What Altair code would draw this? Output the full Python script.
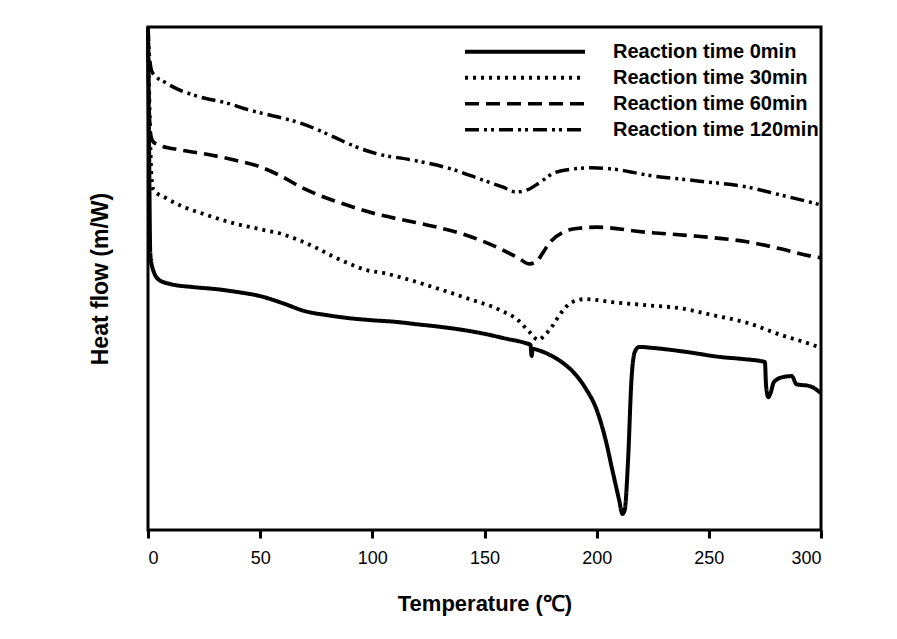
import altair as alt
import pandas as pd

# Reaction time 0 min (solid)
t0 = [0, 0.5, 1, 2, 5, 10, 20, 30, 40, 50, 60, 70, 80, 90, 100, 110, 120, 130, 140, 150,
      160, 168, 170.5, 171, 171.5, 175, 180, 185, 190, 195, 200, 204, 207, 210, 211.5, 212.5,
      214, 215.5, 217, 219, 225, 240, 255, 265, 275, 275.5, 276.5, 277.5, 279, 283, 287, 289,
      295, 300]
v0 = [100, 75.5, 55.1, 52.1, 49.7, 48.9, 48.3, 47.9, 47.3, 46.5, 45.1, 43.5, 42.7, 42.1, 41.7,
      41.4, 40.9, 40.4, 39.8, 39.0, 38.0, 37.2, 36.8, 34.6, 36.0, 35.6, 34.6, 33.2, 31.2, 28.2,
      23.9, 17.9, 11.9, 6.0, 3.2, 4.0, 13.9, 29.8, 35.4, 36.4, 36.2, 35.4, 34.4, 34.0, 33.4,
      28.8, 26.4, 27.2, 29.4, 30.4, 30.6, 29.0, 28.6, 27.2]

# Reaction time 30 min (dotted)
t30 = [0, 0.8, 1.5, 2.5, 8, 15, 25, 38, 50, 60, 68, 75, 82, 90, 97, 105, 112, 127, 142, 157,
       165, 170, 174, 177, 180, 184, 189, 195, 207, 222, 237, 252, 267, 282, 295, 300]
v30 = [100, 81.5, 70.6, 67.6, 66.0, 64.4, 62.8, 61.0, 59.8, 58.8, 57.5, 56.1, 54.5, 52.9, 51.7,
       51.1, 50.3, 48.3, 46.1, 43.7, 41.7, 39.4, 37.8, 38.8, 40.4, 43.1, 45.3, 45.9, 45.3, 44.7,
       44.1, 42.7, 41.2, 38.8, 37.0, 36.2]

# Reaction time 60 min (dashed)
t60 = [0, 0.5, 1.5, 3, 15, 25, 38, 50, 60, 68, 75, 82, 90, 102, 112, 127, 142, 157, 165, 170,
       173, 176, 179, 185, 192, 200, 222, 245, 267, 282, 295, 300]
v60 = [100, 83.5, 77.9, 76.9, 75.5, 74.8, 73.6, 72.2, 70.2, 68.2, 66.8, 65.6, 64.4, 62.8, 61.8,
       60.4, 58.6, 55.9, 54.1, 52.9, 53.3, 55.1, 57.1, 59.2, 60.0, 60.2, 59.2, 58.4, 57.3, 55.9,
       54.5, 54.1]

# Reaction time 120 min (dash-dot-dot)
t120 = [0, 0.8, 2, 8, 23, 35, 45, 58, 68, 76, 83, 92, 102, 117, 135, 149, 158, 164, 169, 175,
        181, 190, 198, 210, 222, 245, 267, 282, 295, 300]
v120 = [100, 93.4, 90.9, 88.9, 86.1, 84.9, 83.5, 82.1, 80.9, 79.5, 78.1, 76.3, 74.8, 73.6, 71.8,
        69.6, 68.2, 67.2, 67.6, 69.2, 71.0, 71.8, 72.0, 71.6, 70.6, 69.4, 68.2, 66.6, 65.2, 64.6]

series_names = ["Reaction time 0min", "Reaction time 30min",
                "Reaction time 60min", "Reaction time 120min"]
x_ticks = [0, 50, 100, 150, 200, 250, 300]

frames = []
for name, ts, vs in zip(series_names, [t0, t30, t60, t120], [v0, v30, v60, v120]):
    frames.append(pd.DataFrame({"T": ts, "v": vs, "series": name, "order": range(len(ts))}))
df = pd.concat(frames, ignore_index=True)

FONT = "Liberation Sans"

chart = alt.Chart(df).mark_line(
    interpolate="monotone", color="black", strokeJoin="round"
).encode(
    x=alt.X("T:Q", scale=alt.Scale(domain=[0, 300], nice=False),
            axis=alt.Axis(values=x_ticks, title="Temperature (\u2103)", grid=False,
                          domain=False, tickSize=8, tickWidth=3, tickColor="black",
                          labelFont=FONT, labelFontSize=18, labelColor="black", labelPadding=11,
                          titleFont=FONT, titleFontSize=22, titleFontWeight="bold",
                          titleColor="black", titlePadding=26)),
    y=alt.Y("v:Q", scale=alt.Scale(domain=[0, 100], nice=False),
            axis=alt.Axis(title="Heat flow (m/W)", labels=False, ticks=False, grid=False,
                          domain=False, titleFont=FONT, titleFontSize=23,
                          titleFontWeight="bold", titleColor="black", titlePadding=36)),
    strokeDash=alt.StrokeDash(
        "series:N",
        scale=alt.Scale(domain=series_names,
                        range=[[1, 0], [3, 5], [14, 7], [14, 5, 3, 4, 3, 5]]),
        legend=alt.Legend(title=None, orient="none", legendX=315, legendY=12,
                          symbolType="stroke", symbolSize=14400, symbolStrokeWidth=3.5,
                          symbolStrokeColor="black", labelFont=FONT, labelFontSize=20,
                          labelFontWeight="bold", labelColor="black", labelOffset=26,
                          labelLimit=400, clipHeight=25.5, rowPadding=0)),
    strokeWidth=alt.StrokeWidth(
        "series:N",
        scale=alt.Scale(domain=series_names, range=[4, 3.5, 3.5, 3.5]),
        legend=None),
    order="order:Q",
).properties(
    width=673, height=503,
    autosize=alt.AutoSizeParams(type="none"),
    padding={"left": 140, "top": 19, "right": 68, "bottom": 100},
).configure_view(stroke="black", strokeWidth=3)

chart.save("out.html", embed_options={"renderer": "svg", "actions": False})
